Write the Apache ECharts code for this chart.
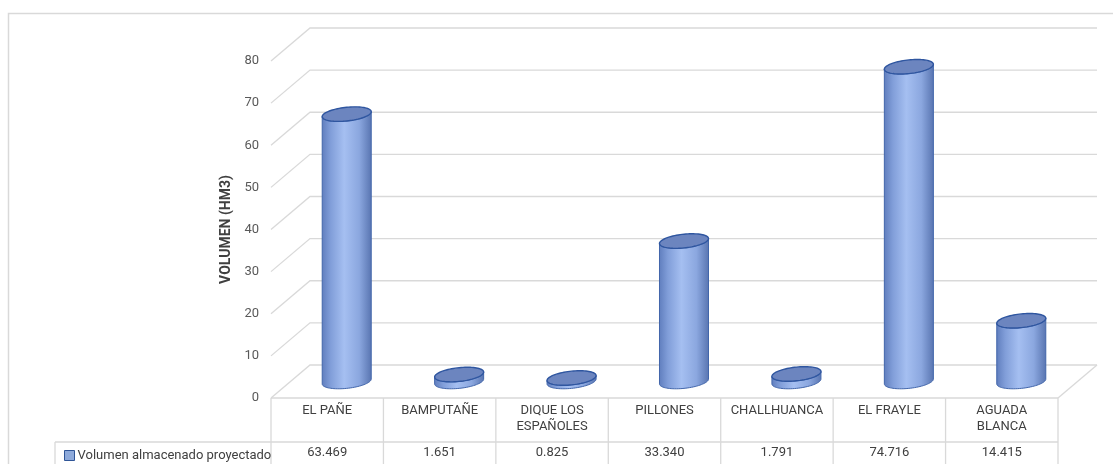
<!DOCTYPE html>
<html>
<head>
<meta charset="utf-8">
<title>Volumen almacenado proyectado</title>
<script src="https://cdn.jsdelivr.net/npm/echarts@6.0.0/dist/echarts.min.js"></script>
<style>
  html, body { margin: 0; padding: 0; background: #ffffff; }
  #chart { width: 1113px; height: 464px; }
</style>
</head>
<body>
<div id="chart"></div>
<script>
// Embalses y volumen almacenado proyectado (hm3)
const categories = ['EL PAÑE', 'BAMPUTAÑE', 'DIQUE LOS\nESPAÑOLES', 'PILLONES', 'CHALLHUANCA', 'EL FRAYLE', 'AGUADA\nBLANCA'];
const volumes = [63.469, 1.651, 0.825, 33.340, 1.791, 74.716, 14.415];
const yTicks = [0, 10, 20, 30, 40, 50, 60, 70, 80];
const seriesName = 'Volumen almacenado proyectado';
const axisTitle = 'VOLUMEN (HM3)';

// Perspective offset between front edge and back wall of the 3D box
const DEPTH_X = 39;
const DEPTH_Y = -33;
const FONT = 'Roboto, "Liberation Sans", sans-serif';
const FONT_SIZE = 13;
const GRID_COLOR = '#d9d9d9';

const chart = echarts.init(document.getElementById('chart'), null, { renderer: 'canvas' });

// Walls: left-wall diagonals and back-wall horizontals for each tick, plus floor edge
function renderWalls(params, api) {
  const cs = params.coordSys;
  const v = api.value(1);
  const y = api.coord([0, v])[1];
  const x0 = cs.x, x1 = cs.x + cs.width;
  const children = [{
    type: 'polyline',
    shape: { points: [[x0, y], [x0 + DEPTH_X, y + DEPTH_Y], [x1 + DEPTH_X, y + DEPTH_Y]] },
    style: { stroke: GRID_COLOR, lineWidth: 1.3, fill: null }
  }];
  if (v === 0) {
    children.push({
      type: 'line',
      shape: { x1: x1, y1: y, x2: x1 + DEPTH_X, y2: y + DEPTH_Y },
      style: { stroke: GRID_COLOR, lineWidth: 1.3 }
    });
  }
  return { type: 'group', children: children };
}

// Point on a slightly sheared ellipse (cylinder cap)
function capPoint(cx, cy, rx, ry, k, t) {
  return [cx + rx * Math.cos(t), cy + ry * Math.sin(t) - k * rx * Math.cos(t)];
}

function renderCylinder(params, api) {
  const cs = params.coordSys;
  const i = api.value(0);
  const v = api.value(1);
  const base = api.coord([i, 0]);
  const top = api.coord([i, v]);
  const band = api.size([1, 0])[0];
  const rx = band * 0.218;
  const ry = rx * 0.28;
  const k = 0.1;
  const cx = base[0] + DEPTH_X / 2;
  const by = base[1] + DEPTH_Y / 2;
  const ty = top[1] + DEPTH_Y / 2;
  const N = 40;

  const body = [];
  body.push(capPoint(cx, ty, rx, ry, k, Math.PI));
  for (let s = 0; s <= N; s++) {
    body.push(capPoint(cx, by, rx, ry, k, Math.PI - Math.PI * s / N));
  }
  for (let s = 0; s <= N; s++) {
    body.push(capPoint(cx, ty, rx, ry, k, Math.PI * s / N));
  }
  const cap = [];
  for (let s = 0; s < 2 * N; s++) {
    cap.push(capPoint(cx, ty, rx, ry, k, Math.PI * s / N));
  }

  return {
    type: 'group',
    children: [
      {
        type: 'polygon',
        shape: { points: body },
        style: {
          fill: new echarts.graphic.LinearGradient(0, 0, 1, 0, [
            { offset: 0, color: '#5f7dbd' },
            { offset: 0.18, color: '#819ed9' },
            { offset: 0.45, color: '#a5bff1' },
            { offset: 0.75, color: '#8ba7df' },
            { offset: 1, color: '#5874b0' }
          ]),
          stroke: '#4266ab',
          lineWidth: 1
        }
      },
      {
        type: 'polygon',
        shape: { points: cap },
        style: { fill: '#6c85bf', stroke: '#2f56a0', lineWidth: 1.4 }
      },
      {
        type: 'text',
        x: base[0],
        y: cs.y + cs.height + 55,
        style: {
          text: v.toFixed(3),
          align: 'center',
          verticalAlign: 'middle',
          fill: '#404040',
          fontSize: FONT_SIZE,
          fontFamily: FONT
        }
      }
    ]
  };
}

// Data table borders under the plot
function renderTable(params, api) {
  const cs = params.coordSys;
  const band = api.size([1, 0])[0];
  const yTop = cs.y + cs.height;
  const yRow = yTop + 44;
  const yBottom = yTop + 90;
  const xLegend = 55;
  const x0 = cs.x, x1 = cs.x + cs.width;
  const style = { stroke: GRID_COLOR, lineWidth: 1.3 };
  const children = [
    { type: 'line', shape: { x1: x0, y1: yTop, x2: x1, y2: yTop }, style: style },
    { type: 'line', shape: { x1: xLegend, y1: yRow, x2: x1, y2: yRow }, style: style },
    { type: 'line', shape: { x1: xLegend, y1: yRow, x2: xLegend, y2: yBottom }, style: style }
  ];
  for (let c = 0; c <= categories.length; c++) {
    const x = x0 + c * band;
    children.push({ type: 'line', shape: { x1: x, y1: yTop, x2: x, y2: yBottom }, style: style });
  }
  return { type: 'group', children: children };
}

const option = {
  animation: false,
  backgroundColor: '#ffffff',
  textStyle: { fontFamily: FONT },
  graphic: [{
    type: 'rect',
    shape: { x: 8.5, y: 13.5, width: 1300, height: 700 },
    style: { fill: null, stroke: GRID_COLOR, lineWidth: 1.5 },
    silent: true,
    z: -10
  }],
  grid: { left: 271, right: 55, top: 61, bottom: 66 },
  legend: {
    left: 59,
    top: 444,
    itemWidth: 10,
    itemHeight: 10,
    selectedMode: false,
    data: [{
      name: seriesName,
      icon: 'rect',
      itemStyle: { color: '#8eaadb', borderColor: '#2f5597', borderWidth: 1 }
    }],
    textStyle: { color: '#404040', fontSize: FONT_SIZE, fontFamily: FONT, padding: [0, 0, 0, -2] }
  },
  xAxis: {
    type: 'category',
    data: categories,
    axisLine: { show: false },
    axisTick: { show: false },
    splitLine: { show: false },
    axisLabel: {
      interval: 0,
      margin: 5,
      color: '#404040',
      fontSize: FONT_SIZE,
      lineHeight: 16,
      fontFamily: FONT
    }
  },
  yAxis: {
    type: 'value',
    min: 0,
    max: 80,
    interval: 10,
    name: axisTitle,
    nameLocation: 'middle',
    nameRotate: 90,
    nameGap: 29,
    nameTextStyle: { color: '#404040', fontSize: 14, fontWeight: 'bold', fontFamily: FONT },
    axisLine: { show: false },
    axisTick: { show: false },
    splitLine: { show: false },
    axisLabel: { margin: 12, color: '#595959', fontSize: FONT_SIZE, fontFamily: FONT }
  },
  series: [
    {
      name: 'walls',
      type: 'custom',
      silent: true,
      renderItem: renderWalls,
      data: yTicks.map(function (t) { return [0, t]; }),
      z: 1
    },
    {
      name: 'table',
      type: 'custom',
      silent: true,
      renderItem: renderTable,
      data: [[0, 0]],
      z: 1
    },
    {
      name: seriesName,
      type: 'custom',
      renderItem: renderCylinder,
      itemStyle: { color: '#8eaadb' },
      data: volumes.map(function (v, i) { return [i, v]; }),
      clip: false,
      z: 5
    }
  ]
};

chart.setOption(option);
</script>
</body>
</html>
